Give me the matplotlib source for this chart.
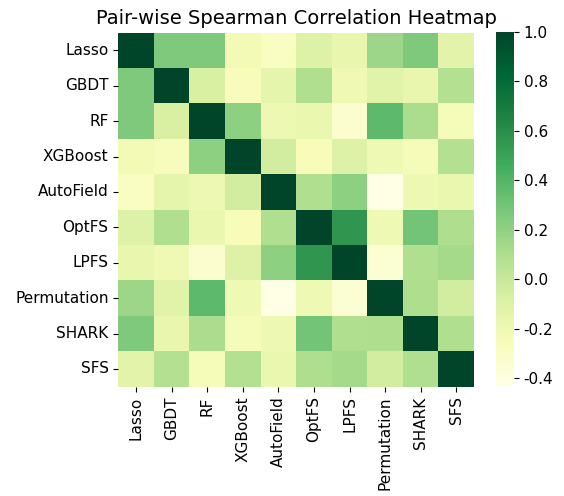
import matplotlib
matplotlib.use("Agg")
import matplotlib.pyplot as plt
import numpy as np
import pandas as pd
import seaborn as sns

methods = ["Lasso", "GBDT", "RF", "XGBoost", "AutoField", "OptFS",
           "LPFS", "Permutation", "SHARK", "SFS"]

# upper triangle, row by row
row_lasso = [0.26, 0.26, -0.22, -0.29, -0.10, -0.16, 0.16, 0.26, -0.13]
row_gbdt = [-0.07, -0.26, -0.14, 0.09, -0.21, -0.12, -0.16, 0.08]
row_rf = [0.21, -0.19, -0.17, -0.33, 0.37, 0.11, -0.24]
row_xgb = [-0.05, -0.25, -0.10, -0.20, -0.24, 0.08]
row_autofield = [0.09, 0.21, -0.43, -0.19, -0.17]
row_optfs = [0.56, -0.20, 0.30, 0.10]
row_lpfs = [-0.35, 0.09, 0.13]
row_perm = [0.10, -0.04]
row_shark = [0.09]

rows = [row_lasso, row_gbdt, row_rf, row_xgb, row_autofield,
        row_optfs, row_lpfs, row_perm, row_shark]

n = len(methods)
corr = np.eye(n)
for i, r in enumerate(rows):
    for k, v in enumerate(r):
        corr[i, i + 1 + k] = v
        corr[i + 1 + k, i] = v

df = pd.DataFrame(corr, index=methods, columns=methods)

fig = plt.figure(figsize=(5.64, 4.96), dpi=100)
ax = fig.add_axes([0.2098, 0.2204, 0.6306, 0.7137])
cax = fig.add_axes([0.8794, 0.2220, 0.0319, 0.7137])
sns.heatmap(df, cmap="YlGn", ax=ax, cbar_ax=cax)
ax.set_title("Pair-wise Spearman Correlation Heatmap", fontsize=14)
ax.tick_params(labelsize=11)
cax.tick_params(labelsize=11)
cax.yaxis.set_major_formatter(matplotlib.ticker.FormatStrFormatter("%.1f"))
fig.savefig("out.png", dpi=100)
